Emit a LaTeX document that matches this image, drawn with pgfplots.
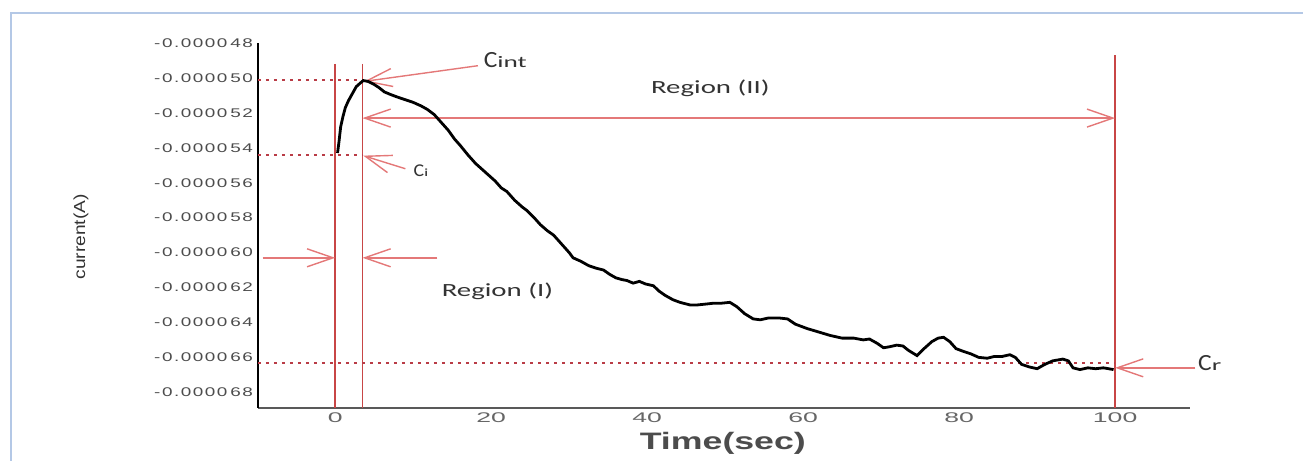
\documentclass[border=0pt]{standalone}
\usepackage{fontspec}
\setmainfont{Liberation Sans}
\usepackage{pgfplots}
\pgfplotsset{compat=1.18}
\usetikzlibrary{arrows.meta}
\newfontfamily\ytf[FakeStretch=1.5,LetterSpace=12]{Liberation Sans}
\newfontfamily\xtf[FakeStretch=1.9]{Liberation Sans}
\newfontfamily\ltf[FakeStretch=1.5]{Liberation Sans}
\newfontfamily\ylf[FakeStretch=1.2]{Liberation Sans}
\newfontfamily\reg[FakeStretch=1.55]{Carlito}
\newfontfamily\cbig[FakeStretch=1.1]{Carlito}
\newfontfamily\csub[FakeStretch=1.7]{Carlito}
\definecolor{vred}{RGB}{200,70,70}
\definecolor{ared}{RGB}{228,120,120}
\definecolor{dred}{RGB}{185,60,70}
\definecolor{framec}{RGB}{180,200,230}
\begin{document}
\begin{tikzpicture}
\useasboundingbox (0pt,0pt) rectangle (651.5pt,230.5pt);
\draw[framec, line width=1pt] (5.5pt,0pt) -- (5.5pt,224pt) -- (651.5pt,224pt);
\begin{axis}[
  at={(129pt,26.5pt)}, anchor=south west,
  scale only axis, width=466pt, height=182.5pt,
  xmin=-9.9, xmax=109.6, ymin=-68.9, ymax=-48,
  axis x line*=bottom, axis y line*=left,
  x axis line style={-, black!65, line width=1.1pt},
  y axis line style={-, black, line width=1.1pt},
  major tick length=0pt,
  xtick={0,20,40,60,80,100},
  xticklabels={0,20,40,60,80,100},
  ytick={-48,-50,-52,-54,-56,-58,-60,-62,-64,-66,-68},
  yticklabels={-0.0000\hspace{1.5pt}48,-0.0000\hspace{1.5pt}50,-0.0000\hspace{1.5pt}52,-0.0000\hspace{1.5pt}54,-0.0000\hspace{1.5pt}56,-0.0000\hspace{1.5pt}58,-0.0000\hspace{1.5pt}60,-0.0000\hspace{1.5pt}62,-0.0000\hspace{1.5pt}64,-0.0000\hspace{1.5pt}66,-0.0000\hspace{1.5pt}68},
  xticklabel style={font=\xtf\fontsize{7}{8}\selectfont, text=black!60, yshift=1pt},
  yticklabel style={font=\ytf\fontsize{6.3}{7}\selectfont, text=black!70, xshift=1pt},
  clip=false,
]
% vertical red lines
\addplot[color=vred, line width=0.9pt] coordinates {(0,-49.2) (0,-68.9)};
\addplot[color=vred, line width=0.9pt] coordinates {(3.5,-49.2) (3.5,-68.9)};
\addplot[color=vred, line width=0.9pt] coordinates {(100,-48.7) (100,-68.9)};
% dotted lines
\addplot[color=dred, line width=1pt, dash pattern=on 1.5pt off 2.5pt] coordinates {(-9.9,-50.1) (3.5,-50.1)};
\addplot[color=dred, line width=1pt, dash pattern=on 1.5pt off 2.5pt] coordinates {(-9.9,-54.4) (3.5,-54.4)};
\addplot[color=dred, line width=1pt, dash pattern=on 1.5pt off 2.5pt] coordinates {(-9.9,-66.35) (100,-66.35)};
% arrows
\addplot[color=ared, line width=0.7pt, -{Straight Barb[length=13pt,width=9pt]}] coordinates {(18.3,-49.3) (3.7,-50.2)};
\addplot[color=ared, line width=0.7pt, {Straight Barb[length=13pt,width=9pt]}-{Straight Barb[length=13pt,width=9pt]}] coordinates {(3.5,-52.3) (100,-52.3)};
\addplot[color=ared, line width=0.7pt, -{Straight Barb[length=13pt,width=9pt]}] coordinates {(9.0,-55.2) (3.6,-54.45)};
\addplot[color=ared, line width=0.7pt, -{Straight Barb[length=13pt,width=9pt]}] coordinates {(-9.3,-60.3) (0,-60.3)};
\addplot[color=ared, line width=0.7pt, -{Straight Barb[length=13pt,width=9pt]}] coordinates {(13.1,-60.3) (3.5,-60.3)};
\addplot[color=ared, line width=0.7pt, -{Straight Barb[length=13pt,width=9pt]}] coordinates {(110.3,-66.6) (100,-66.6)};
% data curve
\addplot[black, line width=1.4pt] coordinates {
(0.3,-54.3) (0.5,-53.6) (0.7,-52.8) (1.0,-52.2) (1.3,-51.7) (1.7,-51.3) (2.2,-50.9) (2.7,-50.5) (3.2,-50.3) (3.6,-50.15)
(4.2,-50.2) (4.9,-50.35) (5.6,-50.55) (6.3,-50.8) (7.1,-50.95) (8.0,-51.1) (9.0,-51.25) (10.0,-51.4) (11.0,-51.6) (11.8,-51.8)
(12.7,-52.1) (13.5,-52.5) (14.5,-53.0) (15.3,-53.5) (16.0,-53.85) (17.0,-54.4) (18.0,-54.9) (19.0,-55.3) (19.5,-55.5) (20.5,-55.9)
(21.3,-56.3) (22.0,-56.5) (23.0,-57.0) (24.0,-57.4) (24.6,-57.6) (25.5,-58.0) (26.3,-58.4) (27.2,-58.75) (28.0,-59.0) (29.0,-59.5)
(30.0,-60.0) (30.5,-60.3) (31.5,-60.5) (32.5,-60.75) (33.5,-60.9) (34.4,-61.0) (35.2,-61.25) (36.0,-61.45) (36.8,-61.55) (37.4,-61.6)
(38.2,-61.75) (39.0,-61.65) (39.8,-61.8) (40.8,-61.9) (41.5,-62.2) (42.3,-62.45) (43.3,-62.7) (44.2,-62.85) (45.5,-63.0) (46.4,-63.0)
(47.5,-62.95) (48.5,-62.9) (49.5,-62.9) (50.6,-62.85) (51.5,-63.1) (52.5,-63.5) (53.6,-63.8) (54.5,-63.85) (55.5,-63.75) (57.0,-63.75)
(58.0,-63.8) (59.0,-64.1) (60.5,-64.35) (62.0,-64.55) (63.5,-64.75) (65.0,-64.9) (66.5,-64.9) (67.7,-65.0) (68.5,-64.95) (69.5,-65.2)
(70.3,-65.45) (71.0,-65.4) (72.0,-65.3) (72.8,-65.35) (73.5,-65.6) (74.6,-65.9) (75.5,-65.5) (76.5,-65.1) (77.3,-64.9) (78.0,-64.85)
(78.8,-65.1) (79.6,-65.5) (80.5,-65.65) (81.5,-65.8) (82.5,-66.0) (83.6,-66.05) (84.5,-65.95) (85.5,-65.95) (86.5,-65.85) (87.2,-66.0)
(88.0,-66.4) (89.0,-66.55) (90.0,-66.65) (91.0,-66.4) (92.0,-66.2) (93.3,-66.1) (94.0,-66.2) (94.6,-66.6) (95.5,-66.7) (96.5,-66.6)
(97.5,-66.65) (98.5,-66.6) (99.8,-66.7)
};
% labels
\node[anchor=west, inner sep=0pt, text=black!80] at (axis cs:19.0,-49.0) {\cbig\fontsize{11.6}{12}\selectfont C\csub\fontsize{8}{9}\selectfont int};
\node[anchor=west, inner sep=0pt, text=black!80] at (axis cs:10.0,-55.3) {\cbig\fontsize{9}{10}\selectfont C\csub\fontsize{5.5}{6}\selectfont i};
\node[anchor=west, inner sep=0pt, text=black!80] at (axis cs:110.6,-66.35) {\cbig\fontsize{11.6}{12}\selectfont C\csub\fontsize{8}{9}\selectfont r};
\node[text=black!80, inner sep=0pt] at (axis cs:48.1,-50.6) {\reg\fontsize{9.3}{10}\selectfont Region (II)};
\node[text=black!80, inner sep=0pt] at (axis cs:20.8,-62.2) {\reg\fontsize{9.3}{10}\selectfont Region (I)};
\node[text=black!70, inner sep=0pt] at (axis cs:49.7,-70.9) {\ltf\bfseries\fontsize{11.9}{13}\selectfont Time(sec)};
\node[text=black!80, inner sep=0pt, rotate=90] at (axis cs:-32.6,-59.1) {\ylf\fontsize{8}{9}\selectfont current(A)};
\end{axis}
\end{tikzpicture}
\end{document}
